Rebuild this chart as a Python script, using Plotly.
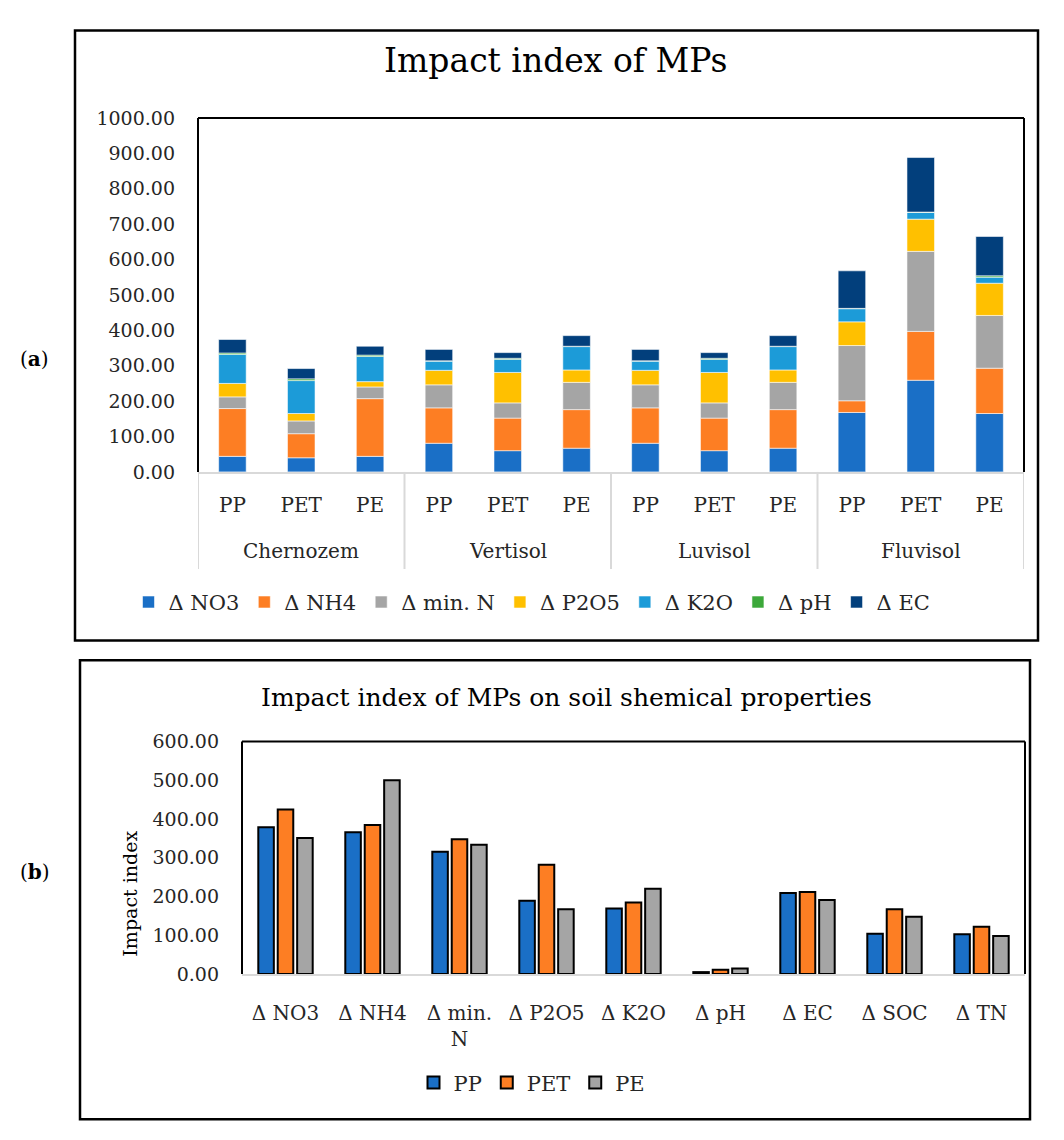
import plotly.graph_objects as go

# ---------------- data (a) ----------------
soils = ["Chernozem", "Vertisol", "Luvisol", "Fluvisol"]
mps = ["PP", "PET", "PE"]
stack_names = ["Δ NO3", "Δ NH4", "Δ min. N", "Δ P2O5", "Δ K2O", "Δ pH", "Δ EC"]
d_no3 = [44, 40, 44, 81, 60, 67, 81, 60, 67, 168, 259, 165]
d_nh4 = [135, 68, 163, 100, 92, 109, 100, 92, 109, 33, 138, 128]
d_minn = [33, 36, 33, 65, 43, 77, 65, 43, 77, 156, 226, 149]
d_p2o5 = [38, 21, 15, 41, 86, 35, 41, 86, 35, 67, 91, 91]
d_k2o = [82, 93, 71, 26, 37, 66, 26, 37, 66, 37, 19, 17]
d_ph = [4, 5, 4, 1, 3, 1, 1, 3, 1, 1, 1, 4]
d_ec = [38, 29, 25, 32, 16, 30, 32, 16, 30, 106, 154, 111]

# ---------------- data (b) ----------------
props = ["Δ NO3", "Δ NH4", "Δ min.<br>N", "Δ P2O5", "Δ K2O", "Δ pH", "Δ EC", "Δ SOC", "Δ TN"]
b_pp = [379, 366, 316, 189, 169, 5, 209, 104, 103]
b_pet = [425, 385, 348, 282, 185, 11, 212, 167, 122]
b_pe = [351, 500, 334, 167, 220, 14, 191, 148, 98]

W, H = 1064, 1140
FONT = "DejaVu Serif"
TXT = "#262626"

stack_colors = ["#1A6FC6", "#FD7E23", "#A5A5A5", "#FFC000", "#1C9BD8", "#3CA83A", "#023F7C"]
stack_vals = [d_no3, d_nh4, d_minn, d_p2o5, d_k2o, d_ph, d_ec]

# category keys: one per (soil, MP) bar
xkeys = [f"{s} | {m}" for s in soils for m in mps]
xticks = [m for _ in soils for m in mps]

fig = go.Figure()
for name, vals, col in zip(stack_names, stack_vals, stack_colors):
    fig.add_trace(go.Bar(
        x=xkeys, y=vals, name=name, width=0.4,
        marker=dict(color=col, line=dict(color="rgba(255,255,255,0.7)", width=0.8)),
        xaxis="x", yaxis="y", legend="legend", offsetgroup="stack"))

b_colors = ["#1A6FC6", "#FD7E23", "#A5A5A5"]
for name, vals, col in zip(mps, [b_pp, b_pet, b_pe], b_colors):
    fig.add_trace(go.Bar(
        x=props, y=vals, name=name, marker=dict(color=col, line=dict(color="#000000", width=2)),
        xaxis="x2", yaxis="y2", legend="legend2", offsetgroup="g_" + name))


def px(v):
    return v / W


def py(v):
    return 1 - v / H


xa = [px(198), px(1024)]
ya = [py(470), py(109)]
xb = [px(242), px(1025)]
yb = [py(982), py(745)]

tickf = dict(family=FONT, size=19, color=TXT)
catf = dict(family=FONT, size=20, color=TXT)

annotations = [
    dict(text="Impact index of MPs", x=px(556), y=py(50), xref="paper", yref="paper", showarrow=False,
         font=dict(family=FONT, size=33, color="#000"), xanchor="center", yanchor="middle"),
    dict(text="Impact index of MPs on soil shemical properties", x=px(566), y=py(700), xref="paper",
         yref="paper", showarrow=False, font=dict(family=FONT, size=25, color="#000"),
         xanchor="center", yanchor="middle"),
    dict(text="Impact index", x=px(130), y=py(900), xref="paper", yref="paper", showarrow=False,
         textangle=-90, font=dict(family=FONT, size=19, color="#000"), xanchor="center", yanchor="middle"),
    dict(text="(<b>a</b>)", x=px(18), y=py(355), xref="paper", yref="paper", showarrow=False,
         font=dict(family=FONT, size=20, color="#000"), xanchor="left", yanchor="middle"),
    dict(text="(<b>b</b>)", x=px(18), y=py(878), xref="paper", yref="paper", showarrow=False,
         font=dict(family=FONT, size=20, color="#000"), xanchor="left", yanchor="middle"),
]
# soil group labels centred under the middle bar of each group
for s in soils:
    annotations.append(dict(text=s, x=f"{s} | PET", y=py(551), xref="x", yref="paper", showarrow=False,
                            font=catf, xanchor="center", yanchor="middle"))

fig.update_layout(
    width=W, height=H, margin=dict(l=0, r=0, t=0, b=0),
    paper_bgcolor="white", plot_bgcolor="white",
    font=dict(family=FONT, color=TXT, size=20),
    barmode="relative", bargap=0.33, bargroupgap=0.2,
    xaxis=dict(domain=xa, anchor="y", type="category", showline=True, linecolor="#D9D9D9", linewidth=2,
               showgrid=False, ticks="", tickmode="array", tickvals=xkeys, ticktext=xticks,
               ticklabelstandoff=14, tickfont=catf, range=[-0.5, len(xkeys) - 0.5]),
    yaxis=dict(domain=ya, anchor="x", range=[0, 1000], dtick=100, tickformat=".2f", showgrid=False,
               showline=False, zeroline=False, ticks="", ticklabelstandoff=22, tickfont=tickf),
    xaxis2=dict(domain=xb, anchor="y2", showline=True, linecolor="#D9D9D9", linewidth=2, showgrid=False,
                ticks="", ticklabelstandoff=20, tickfont=catf),
    yaxis2=dict(domain=yb, anchor="x2", range=[0, 600], dtick=100, tickformat=".2f", showgrid=False,
                showline=False, zeroline=False, ticks="", ticklabelstandoff=22, tickfont=tickf),
    legend=dict(orientation="h", x=0.5, xanchor="center", y=py(603), yanchor="middle",
                font=dict(family=FONT, size=21, color=TXT), traceorder="normal", itemwidth=30,
                bgcolor="rgba(0,0,0,0)"),
    legend2=dict(orientation="h", x=0.5, xanchor="center", y=py(1093), yanchor="middle",
                 font=dict(family=FONT, size=21, color=TXT), traceorder="normal", itemwidth=30,
                 bgcolor="rgba(0,0,0,0)"),
    annotations=annotations,
)

shapes = []
# outer boxes
shapes.append(dict(type="rect", xref="paper", yref="paper", x0=px(75), x1=px(1038), y0=py(642), y1=py(20),
                   line=dict(color="#000", width=2.5)))
shapes.append(dict(type="rect", xref="paper", yref="paper", x0=px(80), x1=px(1030), y0=py(1130), y1=py(662),
                   line=dict(color="#000", width=2.5)))
# group dividers under the category axis of (a)
for k in range(len(soils) + 1):
    xv = k * len(mps) - 0.5
    shapes.append(dict(type="line", xref="x", yref="paper", x0=xv, x1=xv, y0=py(470), y1=py(569),
                       line=dict(color="#D9D9D9", width=2)))
# plot frames (left, top, right)
for (xd, yd) in [(xa, ya), (xb, yb)]:
    shapes.append(dict(type="line", xref="paper", yref="paper", x0=xd[0], x1=xd[0], y0=yd[0], y1=yd[1],
                       line=dict(color="#000", width=2)))
    shapes.append(dict(type="line", xref="paper", yref="paper", x0=xd[0], x1=xd[1], y0=yd[1], y1=yd[1],
                       line=dict(color="#000", width=2)))
    shapes.append(dict(type="line", xref="paper", yref="paper", x0=xd[1], x1=xd[1], y0=yd[0], y1=yd[1],
                       line=dict(color="#000", width=2)))
fig.update_layout(shapes=shapes)

fig.write_html("out.html")
